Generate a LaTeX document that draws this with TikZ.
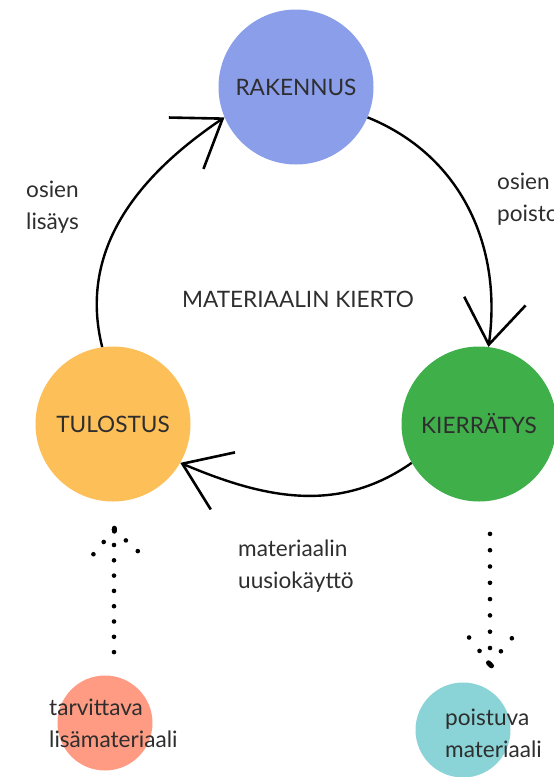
\documentclass[tikz,border=0pt]{standalone}
\usepackage{fontspec}
\setmainfont{Lato}
\usetikzlibrary{arrows.meta,calc}

\definecolor{rakblue}{HTML}{8A9EEA}
\definecolor{tulorange}{HTML}{FDBF58}
\definecolor{kiegreen}{HTML}{3FAF4A}
\definecolor{lissalmon}{HTML}{FF9B82}
\definecolor{poiteal}{HTML}{8AD3D6}
\definecolor{inktext}{HTML}{2E2E2E}

\begin{document}
\begin{tikzpicture}[
  x=1pt,y=1pt,
  phase/.style={
    circle,
    minimum size=155pt,
    inner sep=0pt,
    text=inktext,
    font=\fontsize{22.6}{26}\selectfont
  },
  stock/.style={circle,minimum size=95pt,inner sep=0pt},
  note/.style={
    anchor=west,
    align=left,
    inner sep=0pt,
    text=inktext,
    font=\fontsize{22.6}{32}\selectfont
  },
  loopline/.style={line width=2.4pt,-{Straight Barb[
      length=44pt,
      width=62pt,
      line width=2.6pt
    ]}},
  dotline/.style={line width=4.6pt,line cap=round,dash pattern=on 0pt off #1},
  dotline/.default=16pt
]
  \useasboundingbox (0,0) rectangle (554,-777);

  % Phases of the cycle
  \node[phase,fill=rakblue] (rak) at (296,-87) {RAKENNUS};
  \node[phase,fill=tulorange] (tul) at (113,-424) {TULOSTUS};
  \node[phase,fill=kiegreen] (kie) at (479,-424) {KIERRÄTYS};
  \node[note,anchor=center] (title) at (298,-299) {MATERIAALIN KIERTO};

  % Material entering and leaving
  \node[stock,fill=lissalmon] (lis) at (105,-723) {};
  \node[stock,fill=poiteal] (poi) at (463,-730) {};

  % Cycle arcs
  \draw[loopline] (tul.98) to[out=104,in=214] (rak.203);
  \draw[loopline] (rak.337) to[out=-22,in=82] (kie.83);
  \draw[loopline] (kie.210) to[out=-145,in=-23] (tul.330);

  % Dotted arrows
  \coordinate (uptip) at ($(tul.south)+(1,-28)$);
  \draw[dotline=15.3pt,shorten >=22pt] (uptip) -- (uptip |- lis.north);
  \draw[dotline] (uptip) -- ++(230:33) (uptip) -- ++(318:33);
  \draw[line width=5pt,line cap=round] ($(uptip)+(0,1.5)$) -- ($(uptip)+(0,-1.5)$);

  \coordinate (downtip) at ($(poi.north)+(27,18)$);
  \draw[dotline=16.3pt,shorten >=31pt] (downtip) -- (downtip |- kie.south);
  \draw[dotline=17pt] (downtip) -- ++(128:35) (downtip) -- ++(50:35);
  \draw[line width=5pt,line cap=round] ($(downtip)+(-1.5,1.5)$) -- ($(downtip)+(1.5,-1.5)$);

  % Labels
  \node[note] (lisays) at (26,-207) {osien\\lisäys};
  \node[note] (poisto) at (497,-199) {osien\\poisto};
  \node[note] (uusio) at (238,-566) {materiaalin\\uusiokäyttö};
  \node[note] (tarv) at (49,-723) {tarvittava\\lisämateriaali};
  \node[note] (poist) at (445,-733) {poistuva\\materiaali};
\end{tikzpicture}
\end{document}
